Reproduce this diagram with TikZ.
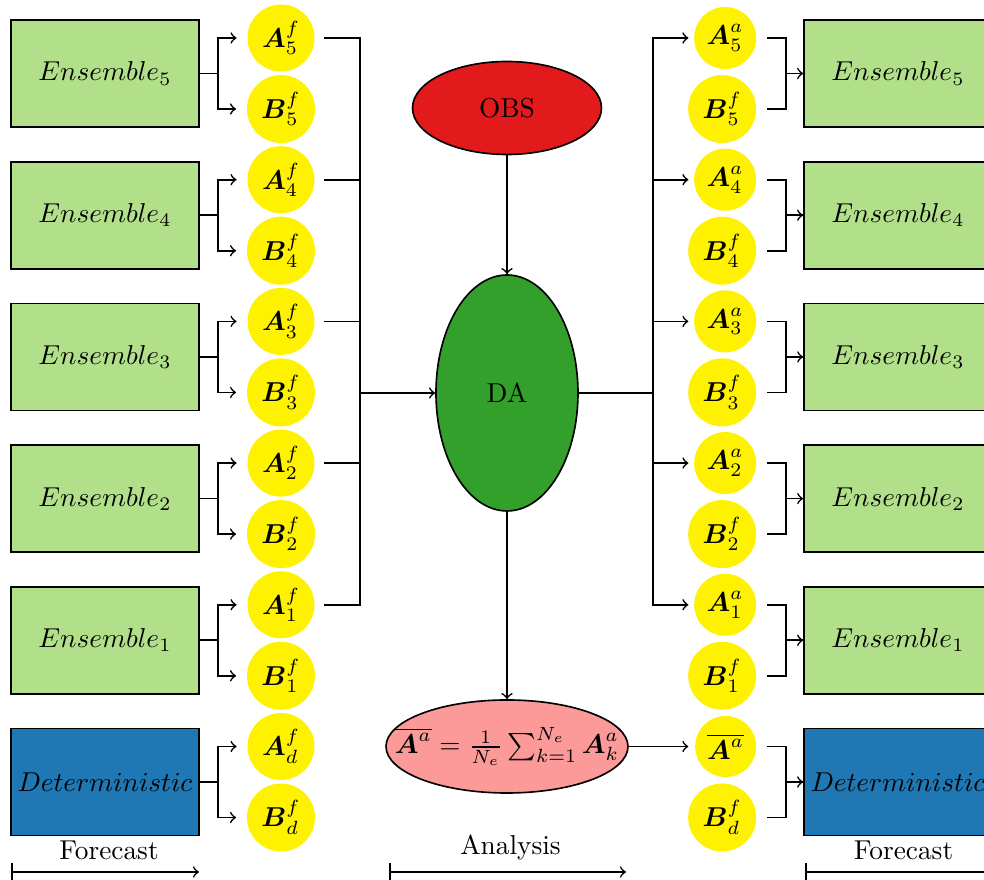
\documentclass[tikz,border=0pt]{standalone}
\usepackage{amsmath,amssymb}
\usetikzlibrary{shapes.geometric}
\newcommand\pxu{0.366pt}
\definecolor{lgreen}{HTML}{B2DF8A}
\definecolor{dblue}{HTML}{1F78B4}
\definecolor{obsred}{HTML}{E31A1C}
\definecolor{dagreen}{HTML}{33A02C}
\definecolor{pinkc}{HTML}{FB9A99}
\definecolor{yel}{RGB}{255,242,0}
\tikzset{
  ens/.style={rectangle, draw, fill=lgreen, minimum width={188*\pxu}, minimum height={107*\pxu}, inner sep=0pt},
  det/.style={ens, fill=dblue},
  ball/.style={circle, fill=yel, inner sep=0pt, minimum size={#1*\pxu}},
  oval/.style={ellipse, draw, inner sep=0pt},
  lbl/.style={anchor=south, inner sep=0pt},
}
\begin{document}
\begin{tikzpicture}[x=0.366pt, y=-0.366pt, line width=0.6pt]
\useasboundingbox (0,0) rectangle (984,880);

% central nodes
\node[oval, fill=obsred, minimum width={189*\pxu}, minimum height={93*\pxu}] (obs) at (507,108) {OBS};
\node[oval, fill=dagreen, minimum width={142*\pxu}, minimum height={236*\pxu}] (da) at (507,393) {DA};
\node[oval, fill=pinkc, minimum width={242*\pxu}, minimum height={93*\pxu}] (form) at (507,746.5)
  {\makebox[0pt]{$\overline{\boldsymbol{A}^{a}} = \frac{1}{N_e}\sum_{k=1}^{N_e}\boldsymbol{A}_k^{a}$}};
\coordinate (jl) at (360,393);
\coordinate (jr) at (653,393);

\draw[->] (obs.south) -- (da.north);
\draw[->] (da.south) -- (form.north);
\draw[->] (jl) -- (da.west);
\draw (da.east) -- (jr);

\foreach \i/\y in {5/73.5,4/215.2,3/356.9,2/498.6,1/640.3}{
  % left
  \node[ens] (el\i) at (105,\y) {$Ensemble_{\i}$};
  \node[ball=67] (al\i) at (281,\y-35.5) {$\boldsymbol{A}_{\i}^{f}$};
  \node[ball=68] (bl\i) at (281,\y+35.5) {$\boldsymbol{B}_{\i}^{f}$};
  \draw[->, shorten >=3.7pt] (el\i.east) -- ++(18,0) |- (al\i.west);
  \draw[->, shorten >=3.7pt] (el\i.east) -- ++(18,0) |- (bl\i.west);
  \draw[shorten <=3.3pt] (al\i.east) -| (jl);
  % right
  \node[ens] (er\i) at (898,\y) {$Ensemble_{\i}$};
  \node[ball=62, anchor=east] (ar\i) at (757,\y-35.5) {$\boldsymbol{A}_{\i}^{a}$};
  \node[ball=68, anchor=east] (br\i) at (757,\y+35.5) {$\boldsymbol{B}_{\i}^{f}$};
  \draw[->, shorten >=1.8pt] (jr) |- (ar\i.west);
  \draw[shorten <=3.7pt] (br\i.east) -- ++(29,0) |- (er\i.west);
  \draw[->, shorten <=3.7pt] (ar\i.east) -- ++(29,0) |- (er\i.west);
}

% deterministic row, left
\node[det] (dl) at (105,782) {$Deterministic$};
\node[ball=67] (adl) at (281,746.5) {$\boldsymbol{A}_{d}^{f}$};
\node[ball=68] (bdl) at (281,817.5) {$\boldsymbol{B}_{d}^{f}$};
\draw[->, shorten >=3.7pt] (dl.east) -- ++(18,0) |- (adl.west);
\draw[->, shorten >=3.7pt] (dl.east) -- ++(18,0) |- (bdl.west);

% deterministic row, right
\node[det] (dr) at (898,782) {$Deterministic$};
\node[ball=61, anchor=east] (abr) at (757,746.5) {$\overline{\boldsymbol{A}^{a}}$};
\node[ball=68, anchor=east] (bdr) at (757,817.5) {$\boldsymbol{B}_{d}^{f}$};
\draw[->, shorten >=2.2pt] (form.east) -- (abr.west);
\draw[shorten <=3.7pt] (bdr.east) -- ++(29,0) |- (dr.west);
\draw[->, shorten <=3.7pt] (abr.east) -- ++(29,0) |- (dr.west);

% timeline
\coordinate (t1a) at (11,872);  \coordinate (t1b) at (199,872);
\coordinate (t2a) at (389,872); \coordinate (t2b) at (626,872);
\coordinate (t3a) at (805,872); \coordinate (t3b) at (992,872);
\draw[|->] (t1a) -- (t1b);
\draw[|->] (t2a) -- (t2b);
\draw[|->] (t3a) -- (t3b);
\node[lbl] (fc1) at (109,861) {Forecast};
\node[lbl] (an) at (510.5,861) {Analysis};
\node[lbl] (fc2) at (903.5,861) {Forecast};
\end{tikzpicture}
\end{document}
